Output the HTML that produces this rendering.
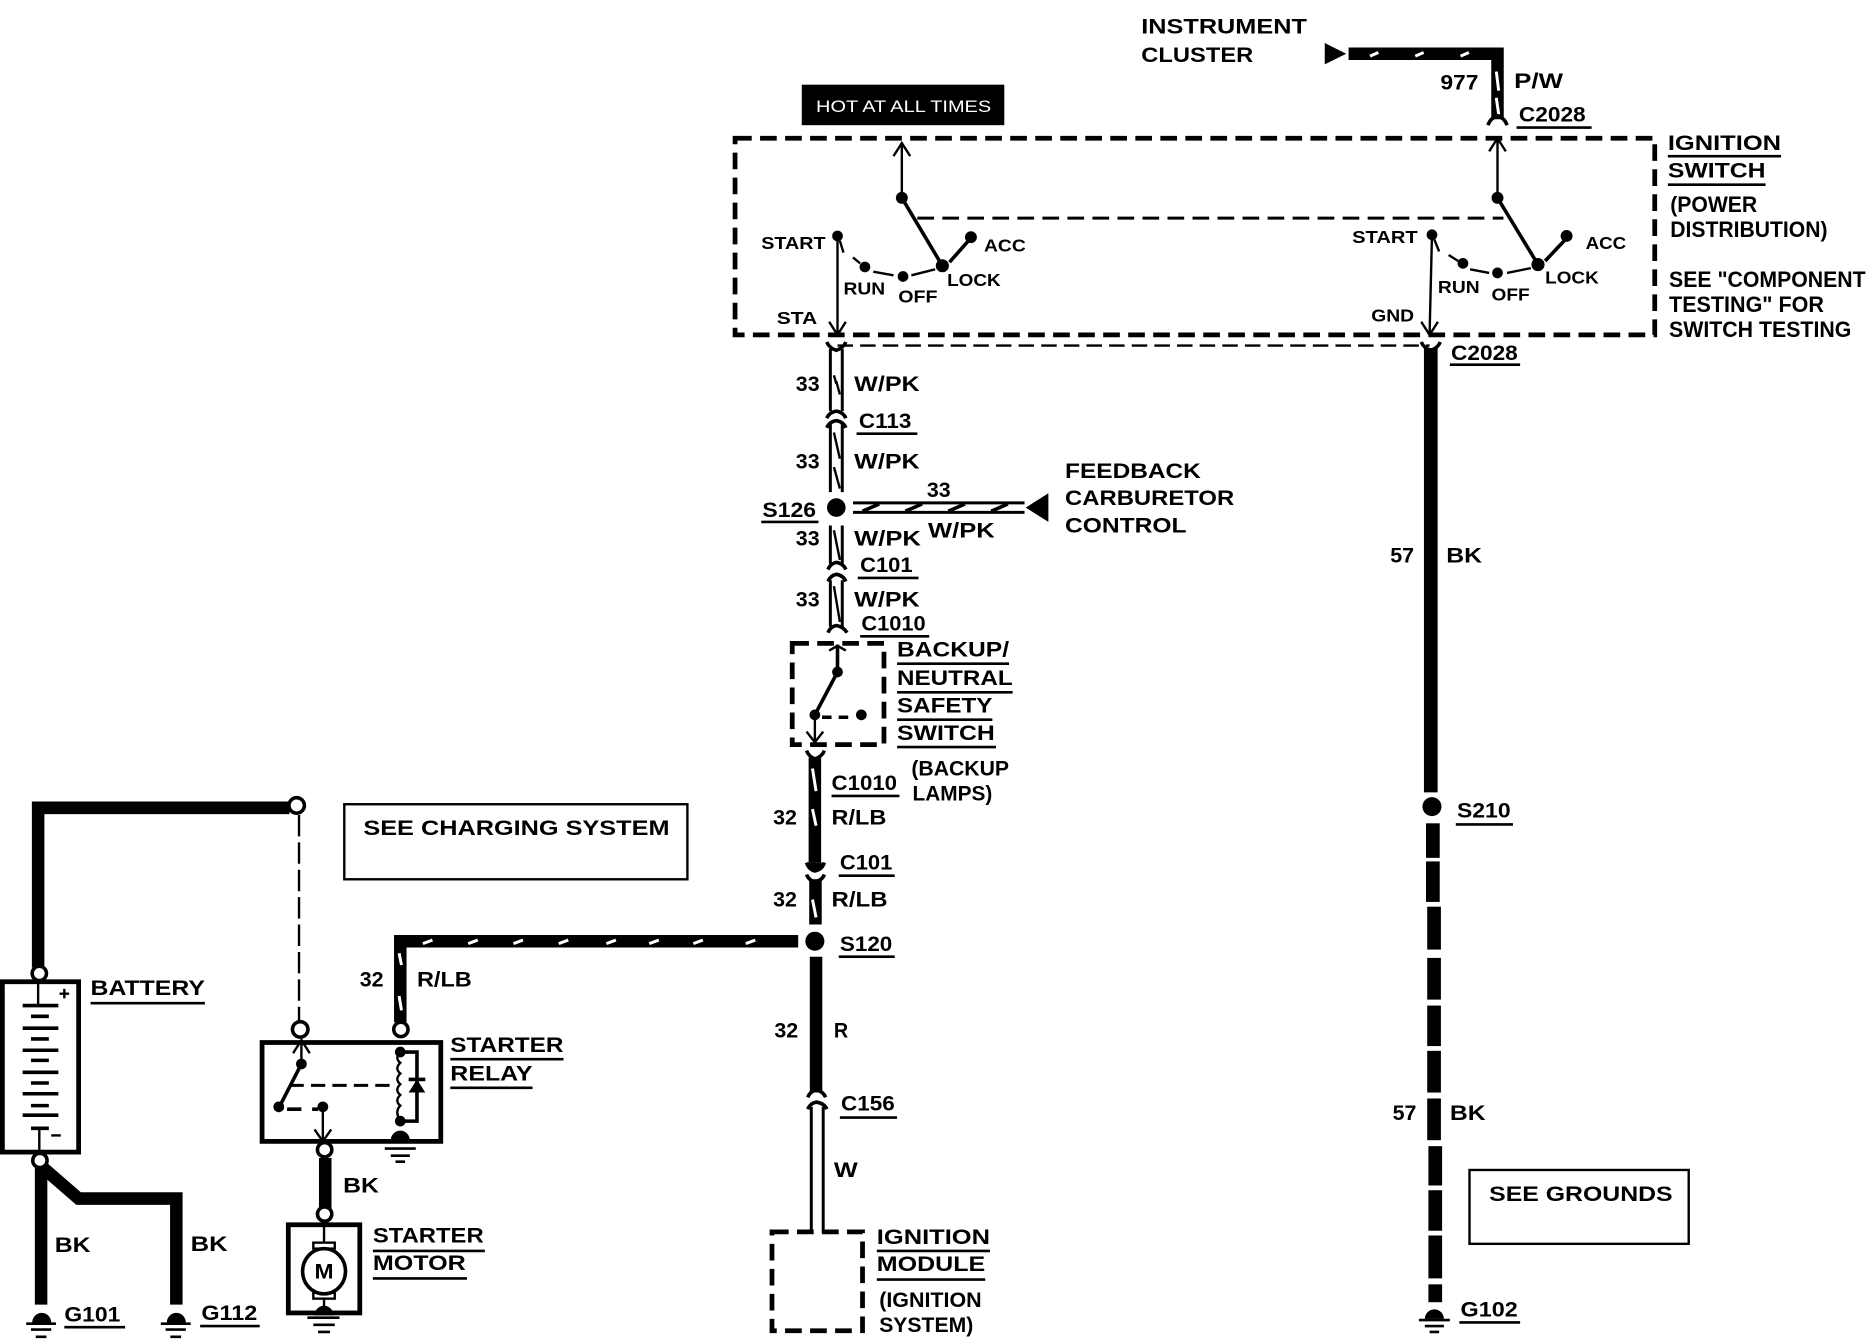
<!DOCTYPE html>
<html>
<head>
<meta charset="utf-8">
<title>Starting system wiring diagram</title>
<style>
html,body{margin:0;padding:0;background:#fff}
svg{display:block;width:1868px;height:1344px}
text{font-family:"Liberation Sans",sans-serif;font-weight:bold;font-size:18px;fill:#000}
.s{font-size:15px}
.r{font-size:19px}
.w{fill:none;stroke:#000;stroke-width:10.5}
.n{fill:none;stroke:#000;stroke-width:2}
.h{fill:none;stroke:#000;stroke-width:3}
.d{fill:none;stroke:#000;stroke-width:4;stroke-dasharray:14 7}
.u{fill:none;stroke:#000;stroke-width:2.2}
.sl{fill:none;stroke:#fff;stroke-width:2.5}
.o{fill:#fff;stroke:#000;stroke-width:3}
</style>
</head>
<body>
<svg xmlns="http://www.w3.org/2000/svg" viewBox="0 0 1568 1128">
<rect width="1568" height="1128" fill="#fff"/>

<!-- Instrument cluster feed -->
<polygon points="1112,36 1130,45 1112,54"/>
<path class="w" d="M1132 45H1257V100"/>
<path class="sl" d="M1150 47l7-3M1188 47l7-3M1226 47l7-3M1256 60l2 16M1256 82l2 14"/>
<path class="h" d="M1249 105Q1251 99 1257 97Q1263 99 1265 105"/>
<text x="958" y="28" textLength="139" lengthAdjust="spacingAndGlyphs">INSTRUMENT</text>
<text x="958" y="52" textLength="94" lengthAdjust="spacingAndGlyphs">CLUSTER</text>
<text x="1209" y="75" textLength="32" lengthAdjust="spacingAndGlyphs">977</text>
<text x="1271" y="74" textLength="41" lengthAdjust="spacingAndGlyphs">P/W</text>
<text x="1275" y="102" textLength="56" lengthAdjust="spacingAndGlyphs">C2028</text>
<path class="u" d="M1273 107H1336"/>

<!-- Hot at all times -->
<rect x="673" y="71" width="170" height="34"/>
<text x="685" y="94" textLength="147" lengthAdjust="spacingAndGlyphs" style="fill:#fff;font-weight:normal;font-size:14px">HOT AT ALL TIMES</text>

<!-- Ignition switch box -->
<rect class="d" x="617" y="116" width="772" height="165"/>
<text x="1400" y="126" textLength="95" lengthAdjust="spacingAndGlyphs">IGNITION</text>
<path class="u" d="M1400 131H1495"/>
<text x="1400" y="149" textLength="82" lengthAdjust="spacingAndGlyphs">SWITCH</text>
<path class="u" d="M1400 155H1482"/>
<text class="r" x="1402" y="178" textLength="73" lengthAdjust="spacingAndGlyphs">(POWER</text>
<text class="r" x="1402" y="199" textLength="132" lengthAdjust="spacingAndGlyphs">DISTRIBUTION)</text>
<text class="r" x="1401" y="241" textLength="165" lengthAdjust="spacingAndGlyphs">SEE "COMPONENT</text>
<text class="r" x="1401" y="262" textLength="130" lengthAdjust="spacingAndGlyphs">TESTING" FOR</text>
<text class="r" x="1401" y="283" textLength="153" lengthAdjust="spacingAndGlyphs">SWITCH TESTING</text>

<!-- Left switch -->
<path class="n" d="M757 120V166M750 131L757 120L764 131"/>
<circle cx="757" cy="166" r="5"/>
<path class="h" d="M757 166L791 223"/>
<circle cx="791" cy="223" r="5.5"/>
<path class="h" d="M797 220L813 202"/>
<circle cx="815" cy="199" r="5"/>
<circle cx="703" cy="198" r="4.5"/>
<path class="n" d="M703 198V280M696 270L703 281L710 270"/>
<path class="n" d="M705 202L708 212M716 216L722 221M733 228L750 231M765 231L785 226"/>
<circle cx="726" cy="224" r="4.5"/>
<circle cx="758" cy="232" r="4.5"/>
<text class="s" x="639" y="209" textLength="54" lengthAdjust="spacingAndGlyphs">START</text>
<text class="s" x="826" y="211" textLength="35" lengthAdjust="spacingAndGlyphs">ACC</text>
<text class="s" x="708" y="247" textLength="35" lengthAdjust="spacingAndGlyphs">RUN</text>
<text class="s" x="754" y="254" textLength="33" lengthAdjust="spacingAndGlyphs">OFF</text>
<text class="s" x="795" y="240" textLength="45" lengthAdjust="spacingAndGlyphs">LOCK</text>
<text class="s" x="652" y="272" textLength="34" lengthAdjust="spacingAndGlyphs">STA</text>

<!-- Mechanical link -->
<path d="M770 183H1262" fill="none" stroke="#000" stroke-width="2.5" stroke-dasharray="14 7"/>

<!-- Right switch -->
<path class="n" d="M1257 116V166M1250 127L1257 116L1264 127"/>
<circle cx="1257" cy="166" r="5"/>
<path class="h" d="M1257 166L1291 222"/>
<circle cx="1291" cy="222" r="5.5"/>
<path class="h" d="M1297 219L1313 202"/>
<circle cx="1315" cy="198" r="5"/>
<circle cx="1202" cy="197" r="4.5"/>
<path class="n" d="M1202 197L1200 280M1193 270L1200 281L1207 270"/>
<path class="n" d="M1204 201L1208 211M1216 214L1224 219M1234 226L1250 229M1265 229L1285 225"/>
<circle cx="1228" cy="221" r="4.5"/>
<circle cx="1257" cy="229" r="4.5"/>
<text class="s" x="1135" y="204" textLength="55" lengthAdjust="spacingAndGlyphs">START</text>
<text class="s" x="1331" y="209" textLength="34" lengthAdjust="spacingAndGlyphs">ACC</text>
<text class="s" x="1207" y="246" textLength="35" lengthAdjust="spacingAndGlyphs">RUN</text>
<text class="s" x="1252" y="252" textLength="32" lengthAdjust="spacingAndGlyphs">OFF</text>
<text class="s" x="1297" y="238" textLength="45" lengthAdjust="spacingAndGlyphs">LOCK</text>
<text class="s" x="1151" y="270" textLength="36" lengthAdjust="spacingAndGlyphs">GND</text>

<!-- Thin dashed link under box -->
<path d="M703 290H1200" fill="none" stroke="#000" stroke-width="2" stroke-dasharray="13 6"/>
<path class="h" d="M694 287Q696 292 702 294Q708 292 710 287"/>
<path class="h" d="M1193 287Q1195 292 1201 294Q1207 292 1209 287"/>
<text x="1218" y="302" textLength="56" lengthAdjust="spacingAndGlyphs">C2028</text>
<path class="u" d="M1217 306H1276"/>

<!-- Right BK wire -->
<path d="M1201 292V665" fill="none" stroke="#000" stroke-width="11.5"/>
<circle cx="1202" cy="677" r="8"/>
<g fill="#000">
<rect x="1197" y="691" width="11.5" height="29"/>
<rect x="1197" y="723" width="11.5" height="34"/>
<rect x="1198" y="761" width="11.5" height="36"/>
<rect x="1198" y="804" width="11.5" height="35"/>
<rect x="1198" y="844" width="11.5" height="34"/>
<rect x="1198" y="882" width="11.5" height="35"/>
<rect x="1198" y="922" width="11.5" height="35"/>
<rect x="1199" y="962" width="11.5" height="33"/>
<rect x="1199" y="999" width="11.5" height="34"/>
<rect x="1199" y="1037" width="11.5" height="36"/>
<rect x="1199" y="1078" width="11.5" height="15"/>
</g>
<text x="1167" y="472" textLength="20" lengthAdjust="spacingAndGlyphs">57</text>
<text x="1214" y="472" textLength="30" lengthAdjust="spacingAndGlyphs">BK</text>
<text x="1223" y="686" textLength="45" lengthAdjust="spacingAndGlyphs">S210</text>
<path class="u" d="M1222 692H1270"/>
<text x="1169" y="940" textLength="20" lengthAdjust="spacingAndGlyphs">57</text>
<text x="1217" y="940" textLength="30" lengthAdjust="spacingAndGlyphs">BK</text>
<rect x="1233.5" y="982" width="184" height="62" fill="none" stroke="#000" stroke-width="2"/>
<text x="1250" y="1008" textLength="154" lengthAdjust="spacingAndGlyphs">SEE GROUNDS</text>
<path d="M1196 1107a8 8 0 0 1 16 0z"/>
<path class="u" d="M1191 1108H1217M1196 1113H1212M1200 1118H1208"/>
<text x="1226" y="1105" textLength="48" lengthAdjust="spacingAndGlyphs">G102</text>
<path class="u" d="M1225 1110H1276"/>

<!-- Center W/PK column -->
<g fill="none" stroke="#000">
<path stroke-width="2.5" d="M697 293V345M707 293V345M697 355V413M707 355V413M697 441V473M707 441V473M697 487V526M707 487V526"/>
<path stroke-width="2" d="M700 315L702 322L702 320L705 331M700 363L705 385M700 392L705 410M700 445L705 470M700 492L705 522"/>
<path stroke-width="3" d="M694 351Q696 346 702 345Q708 346 710 351M694 359Q696 354 702 353Q708 354 710 359M695 478Q697 473 702 472Q708 473 710 478M695 488Q697 483 702 482Q708 483 710 488M695 531Q697 526 702 525Q708 526 711 531"/>
</g>
<circle cx="702" cy="426" r="7.8"/>
<text x="668" y="328" textLength="20" lengthAdjust="spacingAndGlyphs">33</text>
<text x="717" y="328" textLength="55" lengthAdjust="spacingAndGlyphs">W/PK</text>
<text x="721" y="359" textLength="44" lengthAdjust="spacingAndGlyphs">C113</text>
<path class="u" d="M719 364H770"/>
<text x="668" y="393" textLength="20" lengthAdjust="spacingAndGlyphs">33</text>
<text x="717" y="393" textLength="55" lengthAdjust="spacingAndGlyphs">W/PK</text>
<text x="640" y="434" textLength="45" lengthAdjust="spacingAndGlyphs">S126</text>
<path class="u" d="M639 438H687"/>
<text x="668" y="458" textLength="20" lengthAdjust="spacingAndGlyphs">33</text>
<text x="717" y="458" textLength="56" lengthAdjust="spacingAndGlyphs">W/PK</text>
<text x="722" y="480" textLength="44" lengthAdjust="spacingAndGlyphs">C101</text>
<path class="u" d="M720 485H771"/>
<text x="668" y="509" textLength="20" lengthAdjust="spacingAndGlyphs">33</text>
<text x="717" y="509" textLength="55" lengthAdjust="spacingAndGlyphs">W/PK</text>
<text x="723" y="529" textLength="54" lengthAdjust="spacingAndGlyphs">C1010</text>
<path class="u" d="M722 534H780"/>

<!-- Feedback carburetor -->
<path d="M716 422H860M716 430H860" fill="none" stroke="#000" stroke-width="2.5"/>
<path d="M724 429L738 423M760 429L774 423M796 429L810 423M832 429L846 423" fill="none" stroke="#000" stroke-width="3"/>
<polygon points="861,426 880,414 880,438"/>
<text x="778" y="417" textLength="20" lengthAdjust="spacingAndGlyphs">33</text>
<text x="779" y="451" textLength="56" lengthAdjust="spacingAndGlyphs">W/PK</text>
<text x="894" y="401" textLength="114" lengthAdjust="spacingAndGlyphs">FEEDBACK</text>
<text x="894" y="424" textLength="142" lengthAdjust="spacingAndGlyphs">CARBURETOR</text>
<text x="894" y="447" textLength="102" lengthAdjust="spacingAndGlyphs">CONTROL</text>

<!-- Backup / neutral safety switch -->
<rect class="d" x="665" y="540" width="77" height="85"/>
<path class="h" d="M703 541V564M703 564L684 600"/>
<circle cx="703" cy="564" r="4.5"/>
<circle cx="684" cy="600" r="4.5"/>
<circle cx="723" cy="600" r="4.5"/>
<path class="h" d="M690 602H698M704 602H712"/>
<path class="n" d="M684 600V622M677 614L684 623L691 614"/>
<path class="n" d="M696 546L703 542L710 546"/>
<text x="753" y="551" textLength="94" lengthAdjust="spacingAndGlyphs">BACKUP/</text>
<path class="u" d="M753 557H847"/>
<text x="753" y="575" textLength="97" lengthAdjust="spacingAndGlyphs">NEUTRAL</text>
<path class="u" d="M753 581H850"/>
<text x="753" y="598" textLength="80" lengthAdjust="spacingAndGlyphs">SAFETY</text>
<path class="u" d="M753 604H833"/>
<text x="753" y="621" textLength="82" lengthAdjust="spacingAndGlyphs">SWITCH</text>
<path class="u" d="M753 627H836"/>

<!-- R/LB column -->
<path class="h" d="M677 630Q679 635 684 637Q690 635 692 630"/>
<path class="w" d="M684 636V724"/>
<path class="sl" d="M682 645L685 664M682 679L685 693"/>
<path d="M677 724Q679 730 684 731Q690 730 692 724" fill="#000" stroke="#000" stroke-width="3"/>
<path class="h" d="M677 734Q679 739 684 740Q690 739 692 734"/>
<path class="w" d="M684.5 738V776"/>
<path class="sl" d="M682 755L685 770"/>
<circle cx="684" cy="790" r="8"/>
<path class="w" d="M685 803V917"/>
<path class="h" d="M678 921Q680 916 685 915Q691 916 693 921"/>
<path class="h" d="M678 931Q680 926 685 925Q692 926 694 931"/>
<path d="M681 929V1035M691 929V1035" fill="none" stroke="#000" stroke-width="2.5"/>
<text x="765" y="651" textLength="82" lengthAdjust="spacingAndGlyphs">(BACKUP</text>
<text x="766" y="672" textLength="67" lengthAdjust="spacingAndGlyphs">LAMPS)</text>
<text x="698" y="663" textLength="55" lengthAdjust="spacingAndGlyphs">C1010</text>
<path class="u" d="M698 668H755"/>
<text x="649" y="692" textLength="20" lengthAdjust="spacingAndGlyphs">32</text>
<text x="698" y="692" textLength="46" lengthAdjust="spacingAndGlyphs">R/LB</text>
<text x="705" y="730" textLength="44" lengthAdjust="spacingAndGlyphs">C101</text>
<path class="u" d="M704 735H751"/>
<text x="649" y="761" textLength="20" lengthAdjust="spacingAndGlyphs">32</text>
<text x="698" y="761" textLength="47" lengthAdjust="spacingAndGlyphs">R/LB</text>
<text x="705" y="798" textLength="44" lengthAdjust="spacingAndGlyphs">S120</text>
<path class="u" d="M704 803H751"/>
<text x="650" y="871" textLength="20" lengthAdjust="spacingAndGlyphs">32</text>
<text x="700" y="871" textLength="12" lengthAdjust="spacingAndGlyphs">R</text>
<text x="706" y="932" textLength="45" lengthAdjust="spacingAndGlyphs">C156</text>
<path class="u" d="M705 938H753"/>
<text x="700" y="988" textLength="20" lengthAdjust="spacingAndGlyphs">W</text>

<!-- Ignition module -->
<rect class="d" x="648" y="1034" width="76" height="83"/>
<text x="736" y="1044" textLength="95" lengthAdjust="spacingAndGlyphs">IGNITION</text>
<path class="u" d="M736 1050H831"/>
<text x="736" y="1067" textLength="91" lengthAdjust="spacingAndGlyphs">MODULE</text>
<path class="u" d="M736 1074H827"/>
<text x="738" y="1097" textLength="86" lengthAdjust="spacingAndGlyphs">(IGNITION</text>
<text x="738" y="1118" textLength="79" lengthAdjust="spacingAndGlyphs">SYSTEM)</text>

<!-- Battery feed -->
<path class="w" d="M243 678H32V812"/>
<circle class="o" cx="249" cy="676" r="6.5"/>
<path d="M251 684V857" fill="none" stroke="#000" stroke-width="2" stroke-dasharray="18 5"/>
<circle class="o" cx="252" cy="864" r="6.5"/>
<rect x="289" y="675" width="288" height="63" fill="none" stroke="#000" stroke-width="2"/>
<text x="305" y="701" textLength="257" lengthAdjust="spacingAndGlyphs">SEE CHARGING SYSTEM</text>

<!-- Battery -->
<rect x="2" y="824" width="64" height="143" fill="#fff" stroke="#000" stroke-width="4"/>
<path class="n" d="M32 823V844M33 947V968"/>
<path class="h" d="M19 844H49M19 863H49M19 881.5H49M19 900H49M19 918H49M19 936H49M26 853H41M26 872H41M26 890H41M26 909H41M26 928H41M26 947H41"/>
<path class="n" d="M50 834H58M54 830V838M43 953H51"/>
<circle class="o" cx="33" cy="817" r="6"/>
<path class="w" d="M34.5 980V1095"/>
<path class="w" d="M36 980L66 1006H148V1095"/>
<circle class="o" cx="33.5" cy="974" r="6"/>
<text x="76" y="835" textLength="96" lengthAdjust="spacingAndGlyphs">BATTERY</text>
<path class="u" d="M76 842H172"/>
<text x="46" y="1051" textLength="30" lengthAdjust="spacingAndGlyphs">BK</text>
<text x="160" y="1050" textLength="31" lengthAdjust="spacingAndGlyphs">BK</text>
<path d="M27 1110a8 8 0 0 1 16 0z"/>
<path class="u" d="M22 1111H47M26 1116H43M30 1122H39"/>
<path d="M140 1110a8 8 0 0 1 16 0z"/>
<path class="u" d="M135 1111H160M139 1116H156M143 1122H152"/>
<text x="54" y="1109" textLength="47" lengthAdjust="spacingAndGlyphs">G101</text>
<path class="u" d="M54 1114H105"/>
<text x="169" y="1108" textLength="47" lengthAdjust="spacingAndGlyphs">G112</text>
<path class="u" d="M168 1113H218"/>

<!-- R/LB horizontal -->
<path class="w" d="M670 790H336V858"/>
<path class="sl" d="M355 792l8-3M393 792l8-3M431 792l8-3M469 792l8-3M509 792l8-3M545 792l8-3M582 792l8-3M626 792l8-3M335 800l2 10M335 836l2 12"/>
<circle class="o" cx="336.5" cy="864" r="6"/>
<text x="302" y="828" textLength="20" lengthAdjust="spacingAndGlyphs">32</text>
<text x="350" y="828" textLength="46" lengthAdjust="spacingAndGlyphs">R/LB</text>

<!-- Starter relay -->
<rect x="220" y="875" width="150" height="83" fill="none" stroke="#000" stroke-width="4"/>
<path class="n" d="M253 873V893M246 884L253 873L260 884"/>
<circle cx="253" cy="893" r="4.5"/>
<path class="h" d="M253 893L234 930"/>
<circle cx="234" cy="929" r="4.5"/>
<path class="h" d="M241 931H253M262 931H267"/>
<circle cx="271" cy="929" r="4.5"/>
<path class="n" d="M271 929V958M264 948L271 958L278 948"/>
<path d="M243 911H333" fill="none" stroke="#000" stroke-width="2.5" stroke-dasharray="12 6"/>
<circle cx="336" cy="883" r="4.5"/>
<circle cx="336" cy="941" r="4.5"/>
<path class="n" d="M336 883q-5 5 0 9q-5 5 0 9q-5 5 0 9q-5 5 0 9q-5 5 0 9q-5 5 0 13"/>
<path class="h" d="M336 883H350V941H336"/>
<path class="h" d="M343 906H357"/>
<polygon points="350,906 343,917 357,917"/>
<path d="M328 957a8 8 0 0 1 16 0z"/>
<path class="u" d="M323 964H349M328 970H344M332 975H340"/>
<text x="378" y="883" textLength="95" lengthAdjust="spacingAndGlyphs">STARTER</text>
<path class="u" d="M378 889H473"/>
<text x="378" y="907" textLength="69" lengthAdjust="spacingAndGlyphs">RELAY</text>
<path class="u" d="M378 913H447"/>
<path class="w" d="M273 972V1016"/>
<circle class="o" cx="272.5" cy="965" r="6"/>
<circle class="o" cx="272.5" cy="1019" r="6"/>
<text x="288" y="1001" textLength="30" lengthAdjust="spacingAndGlyphs">BK</text>

<!-- Starter motor -->
<rect x="242" y="1028" width="60" height="74" fill="none" stroke="#000" stroke-width="4"/>
<path class="n" d="M272 1026V1048M272 1090V1102"/>
<rect x="263" y="1043" width="18" height="5" fill="#fff" stroke="#000" stroke-width="2"/>
<rect x="263" y="1085" width="18" height="5" fill="#fff" stroke="#000" stroke-width="2"/>
<ellipse cx="272" cy="1067" rx="18" ry="19" fill="#fff" stroke="#000" stroke-width="3"/>
<text x="264" y="1073" textLength="16" lengthAdjust="spacingAndGlyphs">M</text>
<path d="M264 1104a8 8 0 0 1 16 0z"/>
<path class="u" d="M258 1106H285M263 1112H281M267 1118H277"/>
<text x="313" y="1043" textLength="93" lengthAdjust="spacingAndGlyphs">STARTER</text>
<path class="u" d="M313 1050H407"/>
<text x="313" y="1066" textLength="78" lengthAdjust="spacingAndGlyphs">MOTOR</text>
<path class="u" d="M313 1073H392"/>
</svg>
</body>
</html>
